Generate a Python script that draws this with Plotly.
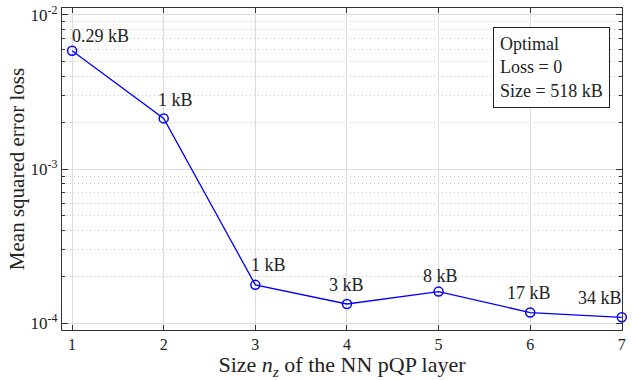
import math
import plotly.graph_objects as go

nz = [1, 2, 3, 4, 5, 6, 7]
mse = [5.86e-3, 2.13e-3, 1.77e-4, 1.33e-4, 1.60e-4, 1.17e-4, 1.09e-4]
size_labels = ["0.29 kB", "1 kB", "1 kB", "3 kB", "8 kB", "17 kB", "34 kB"]
major_ticks = [1e-4, 1e-3, 1e-2]
major_text = ["10<sup>-4</sup>", "10<sup>-3</sup>", "10<sup>-2</sup>"]
minor_ticks = [m * d for d in (1e-4, 1e-3) for m in range(2, 10)]

FONT = "Liberation Serif, DejaVu Serif, serif"
blue = "#0000ff"
ink = "#222222"

fig = go.Figure()
fig.add_trace(go.Scatter(
    x=nz, y=mse, mode="lines+markers",
    line=dict(color=blue, width=1.3),
    marker=dict(symbol="circle-open", size=9, color=blue, line=dict(width=1.5, color=blue)),
    showlegend=False, cliponaxis=False,
))

# label placement (style only)
anchors = ["left", "left", "left", "center", "center", "center", "right"]
xshifts = [-2, -8, -6, 0, 2, -1, 2]
yshifts = [15, 18, 20, 19, 16, 20, 19]
for x, y, t, a, xs, ys in zip(nz, mse, size_labels, anchors, xshifts, yshifts):
    fig.add_annotation(x=x, y=math.log10(y), xref="x", yref="y", text=t, showarrow=False,
                       xanchor=a, yanchor="middle", xshift=xs, yshift=ys,
                       font=dict(family=FONT, size=18, color=ink))

fig.add_annotation(xref="paper", yref="paper", x=0.979, y=0.941, xanchor="right", yanchor="top",
                   text="Optimal<br>Loss = 0<br>Size = 518 kB", align="left", showarrow=False,
                   bordercolor=ink, borderwidth=1, borderpad=6, bgcolor="white",
                   font=dict(family=FONT, size=18, color=ink))

fig.update_layout(
    width=632, height=380,
    margin=dict(l=62, r=10, t=8, b=50),
    paper_bgcolor="white", plot_bgcolor="white",
    font=dict(family=FONT, size=16, color=ink),
    xaxis=dict(
        range=[0.89, 7.002], tickvals=nz, ticks="inside", ticklen=5, tickcolor="#333",
        showline=True, linecolor="#333", linewidth=1.2, mirror="allticks",
        showgrid=True, gridcolor="#dcdcdc", gridwidth=1, zeroline=False,
        automargin=False,
        title=dict(text="Size <i>n</i><sub><i>z</i></sub> of the NN pQP layer", standoff=2,
                   font=dict(family=FONT, size=22)),
        tickfont=dict(family=FONT, size=16),
    ),
    yaxis=dict(
        type="log", range=[-4.045, -1.955], tickvals=major_ticks, ticktext=major_text,
        ticks="inside", ticklen=6, tickcolor="#333",
        showline=True, linecolor="#333", linewidth=1.2, mirror="allticks",
        showgrid=True, gridcolor="#dcdcdc", gridwidth=1, zeroline=False,
        automargin=False,
        minor=dict(tickvals=minor_ticks, ticks="inside", ticklen=3, tickcolor="#333",
                   showgrid=True, gridcolor="#c4c4c4", griddash="1px,3px", gridwidth=1),
        title=dict(text="Mean squared error loss", standoff=0, font=dict(family=FONT, size=21)),
        tickfont=dict(family=FONT, size=17),
    ),
)

fig.write_html("out.html", config={"displayModeBar": False},
               post_script="document.body.style.margin='0';")
